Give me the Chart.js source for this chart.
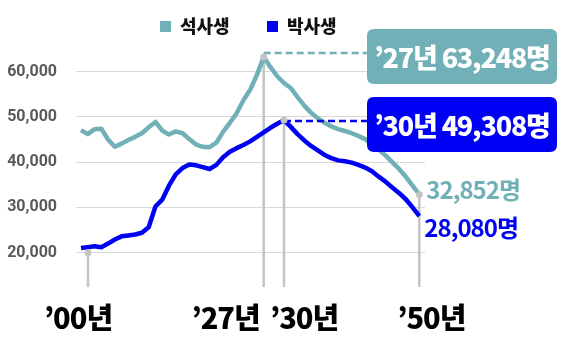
<!DOCTYPE html>
<html>
<head>
<meta charset="utf-8">
<script src="https://cdn.jsdelivr.net/npm/chart.js@4"></script>
<style>
  html, body { margin: 0; padding: 0; background: #fff; }
  #wrap { width: 570px; height: 352px; }
</style>
</head>
<body>
<div id="wrap"><canvas id="chart"></canvas></div>
<script>
// years 2000 - 2050
var years = [2000, 2001, 2002, 2003, 2004, 2005, 2006, 2007, 2008, 2009,
             2010, 2011, 2012, 2013, 2014, 2015, 2016, 2017, 2018, 2019,
             2020, 2021, 2022, 2023, 2024, 2025, 2026, 2027, 2028, 2029,
             2030, 2031, 2032, 2033, 2034, 2035, 2036, 2037, 2038, 2039,
             2040, 2041, 2042, 2043, 2044, 2045, 2046, 2047, 2048, 2049, 2050]

// 석사생
var masters = [47100, 46200, 47300, 47400, 45000, 43400, 44100, 44900, 45600, 46400,
               47700, 48900, 47000, 46100, 46800, 46400, 45100, 43900, 43400, 43300,
               44300, 46700, 48700, 50800, 53700, 56000, 59300, 63248, 61000, 59000,
               57500, 56400, 54400, 52500, 50900, 49700, 48700, 47900, 47300, 46900,
               46400, 45800, 45100, 44000, 42800, 41500, 40000, 38500, 36800, 34800, 32852]

// 박사생
var doctors = [21000, 21200, 21400, 21200, 22000, 22900, 23600, 23800, 24000, 24400,
               25600, 30200, 31700, 34800, 37300, 38700, 39500, 39300, 38900, 38500,
               39400, 41100, 42300, 43100, 43800, 44600, 45600, 46600, 47600, 48500,
               49308, 47800, 46200, 44800, 43600, 42600, 41600, 40900, 40400, 40200,
               39900, 39400, 38800, 38000, 36800, 35700, 34400, 33200, 31800, 30000, 28080]

var seriesNames = ['석사생', '박사생']
var yTicks = [20000, 30000, 40000, 50000, 60000]
var markYears = [2000, 2027, 2030, 2050]
var markLabels = ['’00년', '’27년', '’30년', '’50년']

var TEAL = '#71b0b7'
var BLUE = '#0000f5'
var GREY = '#c4c4c4'
var KFONT = '"Noto Sans CJK KR", "Noto Sans", sans-serif'

function toPoints(vals) {
    return vals.map(function(v, i) {
        return { x: years[i], y: v }
    })
}

function idx(year) {
    return years.indexOf(year)
}

function roundRect(ctx, x, y, w, h, r) {
    ctx.beginPath()
    ctx.moveTo(x + r, y)
    ctx.lineTo(x + w - r, y)
    ctx.quadraticCurveTo(x + w, y, x + w, y + r)
    ctx.lineTo(x + w, y + h - r)
    ctx.quadraticCurveTo(x + w, y + h, x + w - r, y + h)
    ctx.lineTo(x + r, y + h)
    ctx.quadraticCurveTo(x, y + h, x, y + h - r)
    ctx.lineTo(x, y + r)
    ctx.quadraticCurveTo(x, y, x + r, y)
    ctx.closePath()
}

function callout(year, value) {
    return '’' + String(year).slice(2) + '년 ' + value.toLocaleString('en-US') + '명'
}

var overlay = {
    id: 'overlay',
    beforeDatasetsDraw: function(chart) {
        var ctx = chart.ctx
        var xs = chart.scales.x, ys = chart.scales.y
        var bottom = chart.chartArea.bottom
        // vertical guide lines, anchor value per mark
        var anchors = [yTicks[0], masters[idx(2027)], doctors[idx(2030)], masters[idx(2050)]]
        var shift = [7, 0, 0, 0]
        ctx.save()
        ctx.strokeStyle = GREY
        ctx.lineWidth = 2.5
        markYears.forEach(function(yr, i) {
            var px = xs.getPixelForValue(yr) + shift[i]
            ctx.beginPath()
            ctx.moveTo(px, ys.getPixelForValue(anchors[i]))
            ctx.lineTo(px, bottom)
            ctx.stroke()
        })
        ctx.restore()
    },
    afterDatasetsDraw: function(chart) {
        var ctx = chart.ctx
        var xs = chart.scales.x, ys = chart.scales.y
        var anchors = [yTicks[0], masters[idx(2027)], doctors[idx(2030)], masters[idx(2050)]]
        var shift = [7, 0, 0, 0]
        ctx.save()

        // callout boxes with dashed leaders
        var boxL = 367, boxW = 190, boxH = 55
        var peaks = [
            { yr: 2027, v: masters[idx(2027)], color: TEAL, top: 29, lift: 4 },
            { yr: 2030, v: doctors[idx(2030)], color: BLUE, top: 97, lift: -1 }
        ]
        peaks.forEach(function(p) {
            var px = xs.getPixelForValue(p.yr)
            var py = ys.getPixelForValue(p.v) - p.lift
            ctx.strokeStyle = p.color
            ctx.lineWidth = 2.5
            ctx.setLineDash([7, 4])
            ctx.beginPath()
            ctx.moveTo(px, py)
            ctx.lineTo(boxL, py)
            ctx.stroke()
            ctx.setLineDash([])
            ctx.fillStyle = p.color
            roundRect(ctx, boxL, p.top, boxW, boxH, 7)
            ctx.fill()
            ctx.fillStyle = '#fff'
            ctx.font = '800 27px ' + KFONT
            ctx.letterSpacing = '-1.2px'
            ctx.textAlign = 'center'
            ctx.textBaseline = 'middle'
            ctx.fillText(callout(p.yr, p.v), boxL + boxW / 2, p.top + boxH / 2 + 1)
            ctx.letterSpacing = '0px'
        })

        // grey dots
        ctx.fillStyle = GREY
        markYears.forEach(function(yr, i) {
            ctx.beginPath()
            ctx.arc(xs.getPixelForValue(yr) + shift[i], ys.getPixelForValue(anchors[i]), 3.5, 0, Math.PI * 2)
            ctx.fill()
        })

        // end values
        var last = years[years.length - 1]
        var ex = xs.getPixelForValue(last)
        ctx.font = 'bold 24px ' + KFONT
        ctx.letterSpacing = '-1px'
        ctx.textAlign = 'left'
        ctx.textBaseline = 'middle'
        ctx.fillStyle = TEAL
        ctx.fillText(masters[masters.length - 1].toLocaleString('en-US') + '명', ex + 7, 190)
        ctx.fillStyle = BLUE
        ctx.fillText(doctors[doctors.length - 1].toLocaleString('en-US') + '명', ex + 5, 228)

        // year labels under the guides
        ctx.fillStyle = '#000'
        ctx.font = '900 29px ' + KFONT
        var lx = [
            { dx: -3, align: 'center' },
            { dx: -4, align: 'right' },
            { dx: -14, align: 'left' },
            { dx: 12, align: 'center' }
        ]
        markYears.forEach(function(yr, i) {
            ctx.textAlign = lx[i].align
            ctx.fillText(markLabels[i], xs.getPixelForValue(yr) + lx[i].dx, 318)
        })
        ctx.letterSpacing = '0px'

        // legend
        var lgX = [160, 267]
        ctx.font = '900 18px ' + KFONT
        ctx.textAlign = 'left'
        chart.data.datasets.forEach(function(ds, i) {
            ctx.fillStyle = ds.borderColor
            ctx.fillRect(lgX[i], 21, 11, 11)
            ctx.fillStyle = '#111'
            ctx.fillText(ds.label, lgX[i] + 20, 26)
        })
        ctx.restore()
    }
}

new Chart(document.getElementById('chart'), {
    type: 'line',
    data: {
        datasets: [
            { label: seriesNames[0], data: toPoints(masters), borderColor: TEAL, backgroundColor: TEAL,
              borderWidth: 4.5, pointRadius: 0, tension: 0, borderJoinStyle: 'round' },
            { label: seriesNames[1], data: toPoints(doctors), borderColor: BLUE, backgroundColor: BLUE,
              borderWidth: 4.5, pointRadius: 0, tension: 0, borderJoinStyle: 'round' }
        ]
    },
    options: {
        responsive: true,
        maintainAspectRatio: false,
        animation: false,
        layout: { padding: { left: 0, right: 145, top: 50, bottom: 65 } },
        plugins: {
            legend: { display: false },
            tooltip: { enabled: false }
        },
        scales: {
            x: {
                type: 'linear',
                display: false,
                min: 1999.26,
                max: 2050.84
            },
            y: {
                min: 12400,
                max: 64800,
                border: { display: false },
                grid: { color: '#d9d9d9', lineWidth: 1, drawTicks: false },
                afterBuildTicks: function(scale) {
                    scale.ticks = yTicks.map(function(v) { return { value: v } })
                },
                afterFit: function(scale) {
                    scale.width = 76
                },
                ticks: {
                    padding: 19,
                    color: '#595959',
                    font: { family: '"Liberation Sans Narrow", "Roboto", sans-serif', size: 16, weight: 'bold' }
                }
            }
        }
    },
    plugins: [overlay]
})
</script>
</body>
</html>
